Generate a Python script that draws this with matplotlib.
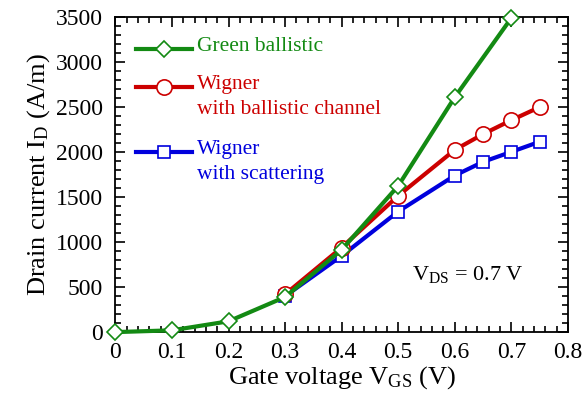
import numpy as np
import matplotlib
matplotlib.use('Agg')
import matplotlib.pyplot as plt
from matplotlib.ticker import MultipleLocator

plt.rcParams['font.family'] = 'Liberation Serif'
plt.rcParams['mathtext.fontset'] = 'custom'
plt.rcParams['mathtext.rm'] = 'Liberation Serif'
plt.rcParams['mathtext.it'] = 'Liberation Serif:italic'

# data
vgs_green = [0.0, 0.1, 0.2, 0.3, 0.4, 0.5, 0.6, 0.7]
id_green = [0, 20, 120, 390, 915, 1625, 2610, 3490]

vgs_red = [0.3, 0.4, 0.5, 0.6, 0.65, 0.7, 0.75]
id_red = [420, 940, 1515, 2025, 2200, 2355, 2500]

vgs_blue = [0.3, 0.4, 0.5, 0.6, 0.65, 0.7, 0.75]
id_blue = [400, 847, 1340, 1740, 1892, 2003, 2115]

x_ticks = [0, 0.1, 0.2, 0.3, 0.4, 0.5, 0.6, 0.7, 0.8]
x_ticklabels = ['0', '0.1', '0.2', '0.3', '0.4', '0.5', '0.6', '0.7', '0.8']

c_green = '#138a13'
c_red = '#cc0000'
c_blue = '#0000dd'

fig = plt.figure(figsize=(5.86, 4.09), dpi=100)
ax = fig.add_axes([0.197, 0.188, 0.772, 0.770])

sty = dict(lw=3, mfc='white', mew=1.2, clip_on=False)
ax.plot(vgs_blue, id_blue, '-s', color=c_blue, ms=8, zorder=2, **sty)
ax.plot(vgs_red, id_red, '-o', color=c_red, ms=11, zorder=3, **sty)
ax.plot(vgs_green, id_green, '-D', color=c_green, ms=8, zorder=4, **sty)

ax.set_xlim(0, 0.8)
ax.set_ylim(0, 3500)
ax.set_xticks(x_ticks, x_ticklabels)
ax.xaxis.set_minor_locator(MultipleLocator(0.02))
ax.yaxis.set_major_locator(MultipleLocator(500))
ax.yaxis.set_minor_locator(MultipleLocator(100))
ax.tick_params(which='both', direction='in', top=True, right=True, labelsize=17, width=1.2)
ax.tick_params(which='major', length=7)
ax.tick_params(which='minor', length=4)
ax.tick_params(axis='y', which='major', pad=9)
ax.tick_params(axis='x', which='major', pad=7)
for s in ax.spines.values():
    s.set_linewidth(1.3)

ax.set_xlabel('Gate voltage V$_{\\mathrm{GS}}$ (V)', fontsize=19, labelpad=1)
ax.set_ylabel('Drain current I$_{\\mathrm{D}}$ (A/m)', fontsize=19, labelpad=3)

ax.text(0.525, 640, 'V$_{\\mathrm{DS}}$ = 0.7 V', fontsize=16, va='center')

# hand-made legend (as in the figure)
leg_items = [('D', 8, c_green, 'Green ballistic', 0.898),
             ('o', 11, c_red, 'Wigner\nwith ballistic channel', 0.778),
             ('s', 8, c_blue, 'Wigner\nwith scattering', 0.571)]
for mk, ms, c, txt, yy in leg_items:
    ax.plot([0.046, 0.170], [yy, yy], color=c, lw=3, transform=ax.transAxes, clip_on=False)
    ax.plot([0.108], [yy], marker=mk, ms=ms, color=c, mfc='white', mew=1.2,
            transform=ax.transAxes, clip_on=False)
    ax.text(0.181, yy + 0.038, txt, color=c, fontsize=15.5, va='top', ha='left',
            linespacing=1.4, transform=ax.transAxes)

fig.savefig('out.png', dpi=100)
